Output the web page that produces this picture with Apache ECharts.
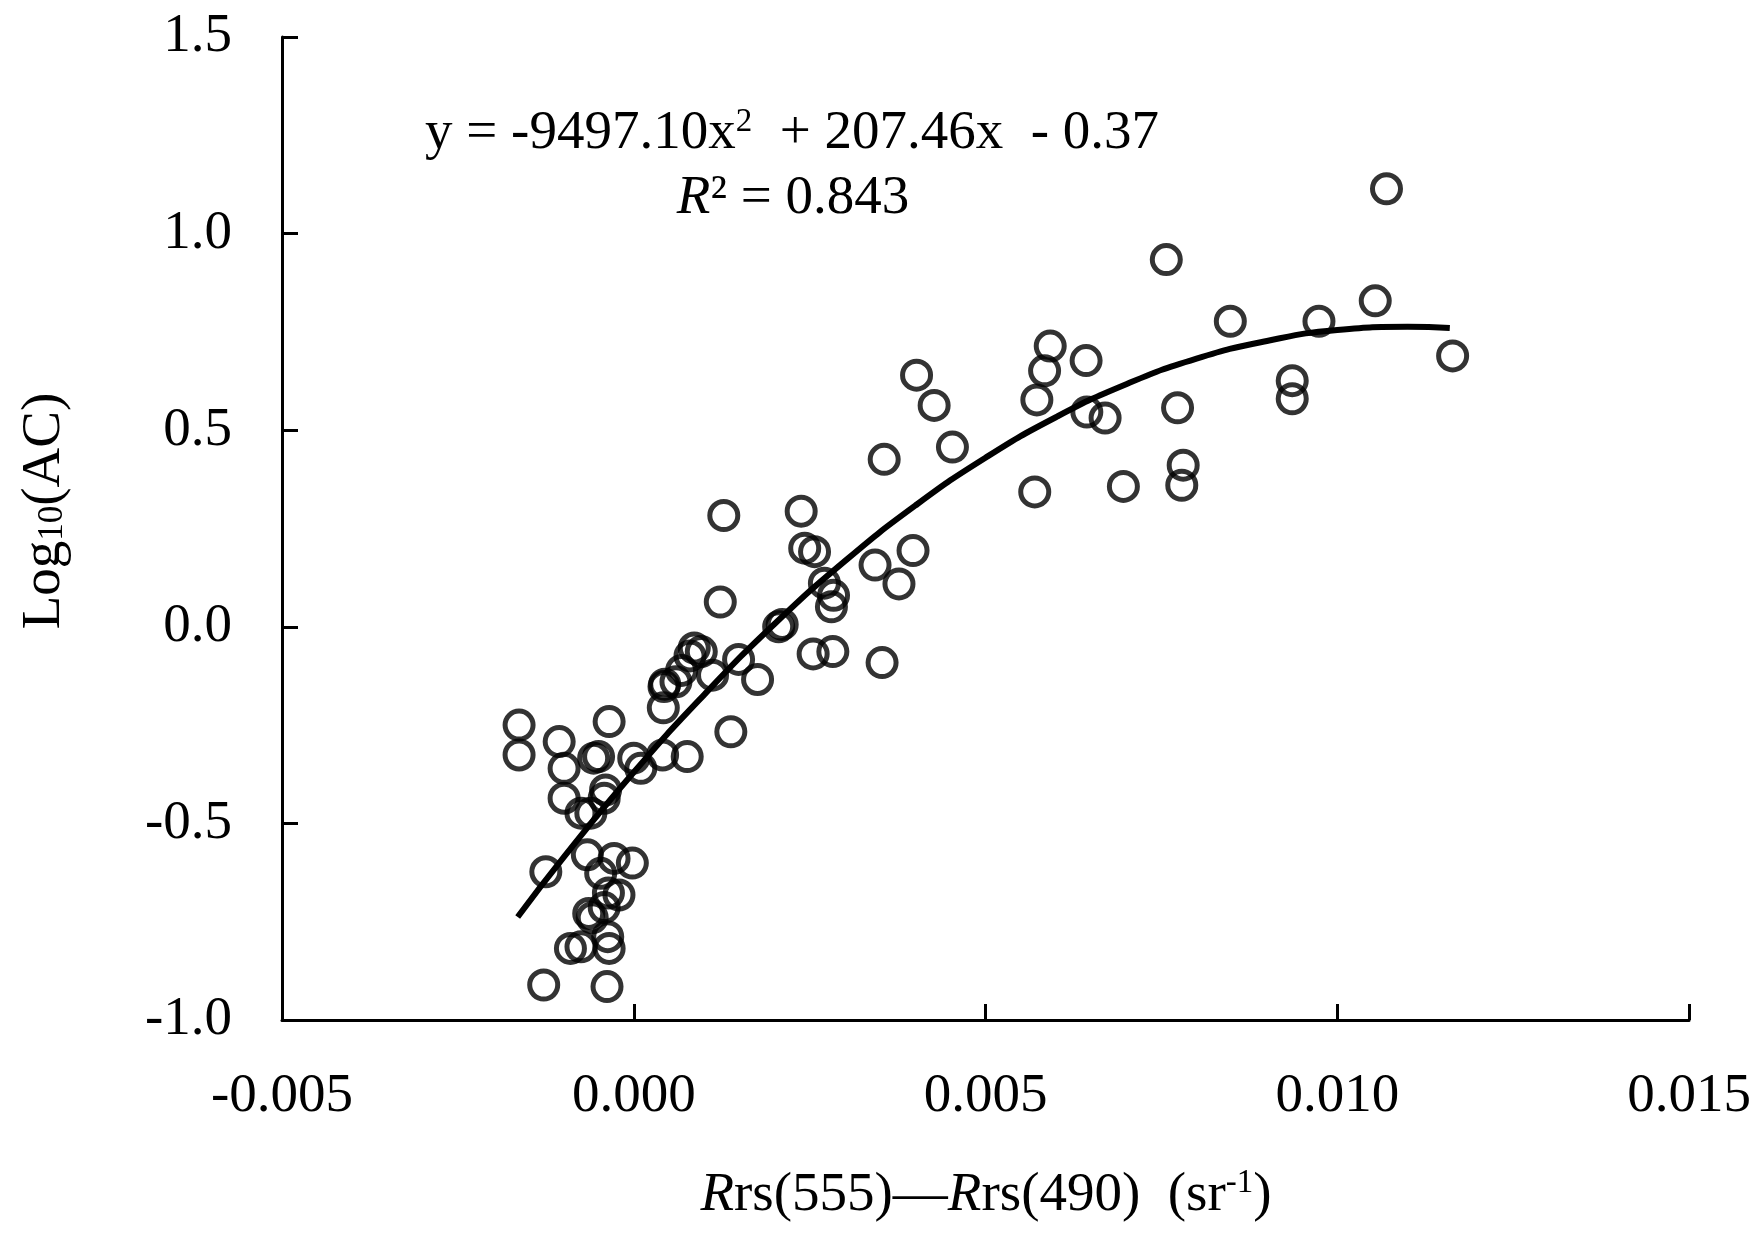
<!DOCTYPE html>
<html>
<head>
<meta charset="utf-8">
<script src="https://cdn.jsdelivr.net/npm/echarts@6/dist/echarts.min.js"></script>
<style>
  html, body { margin: 0; padding: 0; background: #fff; }
  #chart { width: 1761px; height: 1238px; }
</style>
</head>
<body>
<div id="chart"></div>
<script>
// measured points: Rrs(555)-Rrs(490) vs log10(AC)
var xVals = [
  0.01070, 0.00757, 0.01054, 0.00848, 0.00974, 0.01164, 0.00592, 0.00584, 0.00643, 0.00402,
  0.00427, 0.00573, 0.00936, 0.00936, 0.00644, 0.00670, 0.00773, 0.00453, 0.00356, 0.00781,
  0.00779, 0.00696, 0.00570, 0.00128, 0.00238, 0.00243, 0.00257, 0.00397, 0.00343, 0.00271,
  0.00377, 0.00284, 0.00281, 0.00123, 0.00211, 0.00206, 0.00255, 0.00283, 0.00353, 0.00086,
  0.00096, 0.00080, 0.00149, 0.00068, 0.00112, 0.00176, 0.00060, 0.00044, 0.00042, 0.00043,
  0.00138, -0.00163, -0.00163, -0.00035, -0.00106, -0.00099, -0.00057, -0.00050, 0.00000, 0.00041,
  0.00076, 0.00010, -0.00040, -0.00042, -0.00099, -0.00075, -0.00061, -0.00125, -0.00066, -0.00028,
  -0.00002, -0.00047, -0.00036, -0.00021, -0.00064, -0.00059, -0.00042, -0.00090, -0.00075, -0.00037,
  -0.00035, -0.00128, -0.00038
];
var yVals = [
  1.114, 0.934, 0.829, 0.777, 0.777, 0.689, 0.714, 0.651, 0.677, 0.640,
  0.563, 0.577, 0.626, 0.580, 0.546, 0.531, 0.557, 0.457, 0.426, 0.411,
  0.360, 0.357, 0.343, 0.283, 0.294, 0.200, 0.191, 0.194, 0.157, 0.111,
  0.109, 0.080, 0.051, 0.063, 0.006, 0.000, -0.069, -0.063, -0.091, -0.054,
  -0.063, -0.074, -0.083, -0.111, -0.123, -0.134, -0.140, -0.146, -0.206, -0.152,
  -0.267, -0.250, -0.326, -0.241, -0.292, -0.360, -0.334, -0.330, -0.334, -0.326,
  -0.330, -0.360, -0.415, -0.436, -0.436, -0.474, -0.474, -0.623, -0.580, -0.589,
  -0.601, -0.627, -0.677, -0.682, -0.729, -0.740, -0.714, -0.818, -0.814, -0.788,
  -0.818, -0.911, -0.915
];

// fitted curve
var fitX = [-0.00165, -0.0010, 0.0000, 0.0010, 0.0020, 0.0030, 0.0040, 0.0050, 0.0060, 0.0070, 0.0080, 0.0090, 0.0100, 0.0110, 0.0116];
var fitY = [-0.738, -0.587, -0.370, -0.173, 0.007, 0.167, 0.308, 0.430, 0.533, 0.617, 0.682, 0.727, 0.755, 0.763, 0.760];

var xTicks = [-0.005, 0.000, 0.005, 0.010, 0.015];
var yTicks = [-1.0, -0.5, 0.0, 0.5, 1.0, 1.5];

var FONT = '"Liberation Serif", "Times New Roman", serif';

var points = xVals.map(function(x, i) { return [x, yVals[i]]; });
var fitLine = fitX.map(function(x, i) { return [x, fitY[i]]; });

var chart = echarts.init(document.getElementById('chart'));

chart.setOption({
  backgroundColor: '#fff',
  animation: false,
  grid: { left: 282, right: 72, top: 37, bottom: 218 },
  xAxis: {
    type: 'value',
    min: xTicks[0],
    max: xTicks[xTicks.length - 1],
    interval: 0.005,
    axisLine: { onZero: false, lineStyle: { color: '#000', width: 3 } },
    axisTick: { inside: true, length: 16, lineStyle: { color: '#000', width: 3 } },
    splitLine: { show: false },
    axisLabel: {
      color: '#000', fontFamily: FONT, fontSize: 55, margin: 49,
      formatter: function(v) { return v.toFixed(3); }
    }
  },
  yAxis: {
    type: 'value',
    min: yTicks[0],
    max: yTicks[yTicks.length - 1],
    interval: 0.5,
    axisLine: { show: true, onZero: false, lineStyle: { color: '#000', width: 3 } },
    axisTick: { show: true, inside: true, length: 16, lineStyle: { color: '#000', width: 3 } },
    splitLine: { show: false },
    axisLabel: {
      color: '#000', fontFamily: FONT, fontSize: 55, margin: 50,
      formatter: function(v) { return v.toFixed(1); }
    }
  },
  series: [
    {
      type: 'scatter',
      data: points,
      symbol: 'circle',
      symbolSize: 28,
      itemStyle: { color: 'rgba(0,0,0,0)', borderColor: '#000', borderWidth: 5 },
      z: 2
    },
    {
      type: 'line',
      data: fitLine,
      smooth: true,
      showSymbol: false,
      lineStyle: { color: '#000', width: 6 },
      z: 3
    }
  ],
  graphic: [
    {
      type: 'text',
      x: 792, y: 134,
      style: {
        text: 'y = -9497.10x{sup|2}  + 207.46x  - 0.37',
        fill: '#000', font: '55px ' + FONT,
        align: 'center', verticalAlign: 'middle',
        rich: { sup: { fontSize: 33, fontFamily: FONT, padding: [0, 0, 24, 0] } }
      }
    },
    {
      type: 'text',
      x: 793, y: 199,
      style: {
        text: '{i|R}² = 0.843',
        fill: '#000', font: '55px ' + FONT,
        align: 'center', verticalAlign: 'middle',
        rich: { i: { fontStyle: 'italic', fontSize: 55, fontFamily: FONT } }
      }
    },
    {
      type: 'text',
      x: 986, y: 1196,
      style: {
        text: '{i|R}rs(555)—{i|R}rs(490)  (sr{sup|-1})',
        fill: '#000', font: '55px ' + FONT,
        align: 'center', verticalAlign: 'middle',
        rich: {
          i: { fontStyle: 'italic', fontSize: 55, fontFamily: FONT },
          sup: { fontSize: 33, fontFamily: FONT, padding: [0, 0, 26, 0] }
        }
      }
    },
    {
      type: 'text',
      x: 45, y: 511,
      rotation: Math.PI / 2,
      style: {
        text: 'Log{sub|10}(AC)',
        fill: '#000', font: '55px ' + FONT,
        align: 'center', verticalAlign: 'middle',
        rich: { sub: { fontSize: 35, fontFamily: FONT, padding: [16, 0, 0, 0] } }
      }
    }
  ]
});
</script>
</body>
</html>
